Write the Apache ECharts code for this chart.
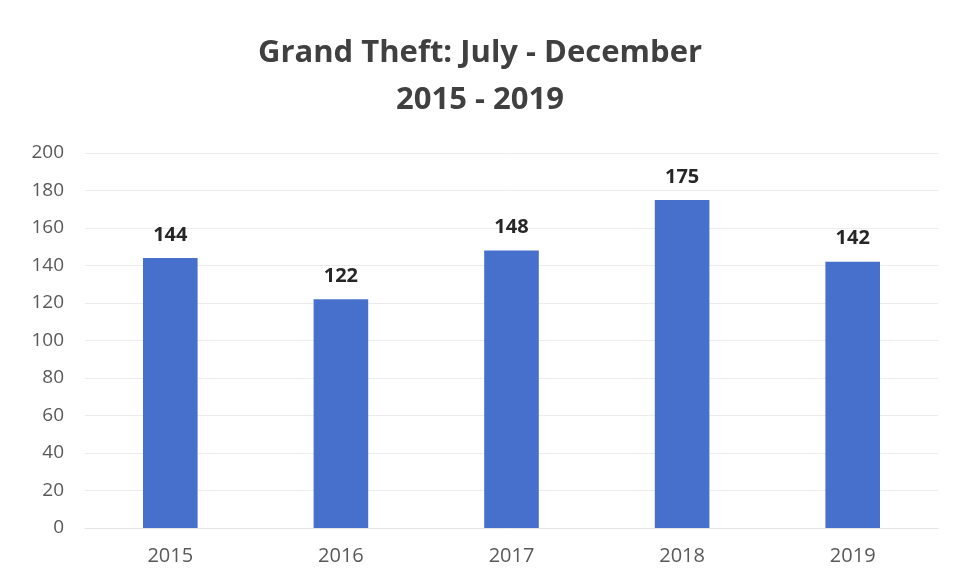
<!DOCTYPE html>
<html>
<head>
<meta charset="utf-8">
<script src="https://cdn.jsdelivr.net/npm/echarts@6/dist/echarts.min.js"></script>
<style>
  html, body { margin: 0; padding: 0; background: #ffffff; }
  #chart { width: 960px; height: 586px; }
</style>
</head>
<body>
<div id="chart"></div>
<script>
// Grand theft counts, July - December of each year
const years = ['2015', '2016', '2017', '2018', '2019'];
const thefts = [144, 122, 148, 175, 142];
const yTicks = [0, 20, 40, 60, 80, 100, 120, 140, 160, 180, 200];

const FONT = '"Open Sans", "Noto Sans", sans-serif';

const chart = echarts.init(document.getElementById('chart'));
chart.setOption({
  backgroundColor: '#ffffff',
  animation: false,
  title: {
    text: 'Grand Theft: July - December\n2015 - 2019',
    left: 'center',
    top: 25,
    textStyle: {
      fontFamily: FONT,
      fontWeight: 'bold',
      fontSize: 31,
      lineHeight: 47,
      color: '#404040'
    }
  },
  grid: { left: 85, right: 22, top: 153, bottom: 58 },
  xAxis: {
    type: 'category',
    data: years,
    axisLine: { show: true, lineStyle: { color: '#e6e6e6', width: 1 } },
    axisTick: { show: false },
    axisLabel: { color: '#595959', fontFamily: FONT, fontSize: 20, margin: 18 }
  },
  yAxis: {
    type: 'value',
    min: yTicks[0],
    max: yTicks[yTicks.length - 1],
    interval: yTicks[1] - yTicks[0],
    axisLine: { show: false },
    axisTick: { show: false },
    axisLabel: { color: '#595959', fontFamily: FONT, fontSize: 19, margin: 21 },
    splitLine: { lineStyle: { color: '#ececec', width: 1 } }
  },
  series: [{
    type: 'bar',
    data: thefts,
    barWidth: '32%',
    itemStyle: { color: '#4670CB' },
    label: {
      show: true,
      position: 'top',
      distance: 13,
      color: '#262626',
      fontFamily: FONT,
      fontWeight: 'bold',
      fontSize: 20
    }
  }]
});
</script>
</body>
</html>
